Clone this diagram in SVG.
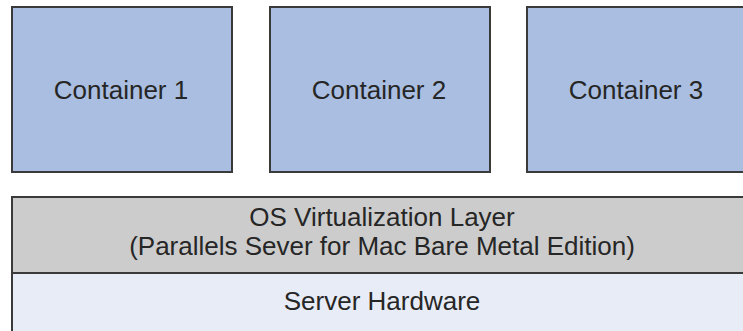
<svg xmlns="http://www.w3.org/2000/svg" width="743" height="331" viewBox="0 0 743 331">
<style>
.box{fill:#a9bee0;stroke:#3a3a3a;stroke-width:2}
.os{fill:#cccccc;stroke:#3a3a3a;stroke-width:2}
.hw{fill:#e8ecf6;stroke:#3a3a3a;stroke-width:2}
text{font-family:"Liberation Sans",Arial,sans-serif;font-size:26px;fill:#262626;text-anchor:middle}
</style>
<rect width="743" height="331" fill="#ffffff"/>
<g id="container1"><rect class="box" x="12" y="7" width="220" height="165"/><text x="121" y="99">Container 1</text></g>
<g id="container2"><rect class="box" x="270" y="7" width="220" height="165"/><text x="379" y="99">Container 2</text></g>
<g id="container3"><rect class="box" x="527" y="7" width="220" height="165"/><text x="636" y="99">Container 3</text></g>
<g id="server-hardware"><rect class="hw" x="12" y="273" width="745" height="70"/><text x="382" y="310">Server Hardware</text></g>
<g id="os-layer"><rect class="os" x="12" y="197" width="745" height="76"/><text x="382" y="226">OS Virtualization Layer</text><text x="382" y="255">(Parallels Sever for Mac Bare Metal Edition)</text></g>
<g id="connectors"/>
</svg>
